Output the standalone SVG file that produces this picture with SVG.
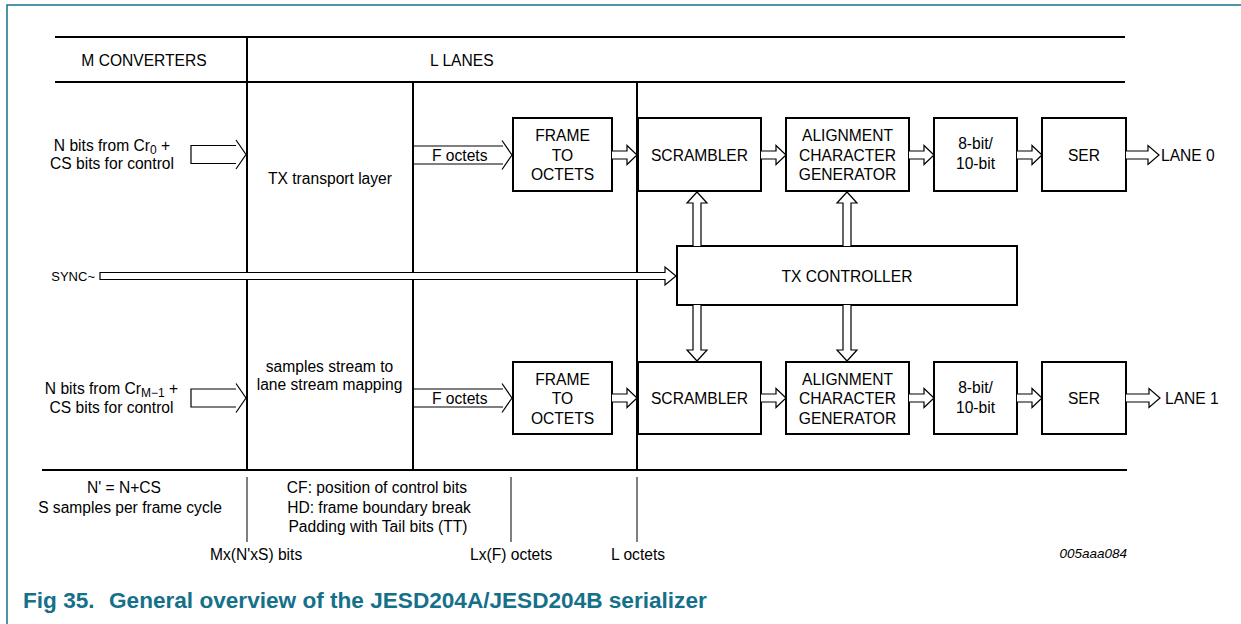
<svg xmlns="http://www.w3.org/2000/svg" width="1241" height="624" viewBox="0 0 1241 624">
<style>
text{font-family:"Liberation Sans",Arial,sans-serif;font-size:15.6px;fill:#000}
.c{text-anchor:middle}
.box{fill:#fff;stroke:#000;stroke-width:2}
.rule{stroke:#000;stroke-width:2;fill:none}
.thin{stroke:#000;stroke-width:1;fill:none}
.arr{fill:#fff;stroke:#000;stroke-width:1.2;stroke-linejoin:miter}
.open{fill:none}
.frame{stroke:#15708a;stroke-width:1.5;fill:none}
.cap{font-weight:bold;font-size:22.6px;fill:#15708a}
.sub{font-size:12px}
.small{font-size:13px}
.id{font-size:13.5px;font-style:italic}
</style>
<rect x="0" y="0" width="1241" height="624" fill="#fff"/>
<path class="frame" d="M7,624 V5 H1241"/>

<g id="grid">
<path class="rule" d="M55,37 H1125 M55,82 H1125 M42,470 H1127 M247,37 V470 M413,82 V470 M637,82 V470"/>
<path class="thin" d="M247,477 V542 M511,477 V542 M637,477 V542"/>
<text class="c" x="144" y="66">M CONVERTERS</text>
<text x="430" y="66">L LANES</text>
<text class="c" x="330" y="183.5">TX transport layer</text>
<text class="c" x="329.5" y="372">samples stream to</text>
<text class="c" x="329.5" y="390">lane stream mapping</text>
</g>

<g id="input0">
<text class="c" x="112" y="151">N bits from Cr<tspan class="sub" dy="3">0</tspan><tspan dy="-3"> +</tspan></text>
<text class="c" x="112" y="169">CS bits for control</text>
</g>
<g id="input1">
<text class="c" x="111.5" y="394">N bits from Cr<tspan class="sub" dy="3">M−1</tspan><tspan dy="-3"> +</tspan></text>
<text class="c" x="111.5" y="412.5">CS bits for control</text>
</g>
<g id="sync"><text class="small" x="95" y="281" text-anchor="end">SYNC~</text></g>

<g id="frame0"><rect class="box" x="513" y="118" width="99" height="73"/>
<text class="c" x="562.5" y="141">FRAME</text><text class="c" x="562.5" y="160.5">TO</text><text class="c" x="562.5" y="180">OCTETS</text></g>
<g id="scrambler0"><rect class="box" x="638" y="118" width="123" height="73"/>
<text class="c" x="699.5" y="160.5">SCRAMBLER</text></g>
<g id="align0"><rect class="box" x="786" y="118" width="123" height="73"/>
<text class="c" x="847.5" y="141">ALIGNMENT</text><text class="c" x="847.5" y="160.5">CHARACTER</text><text class="c" x="847.5" y="180">GENERATOR</text></g>
<g id="enc0"><rect class="box" x="934" y="118" width="83" height="73"/>
<text class="c" x="975.5" y="149.3">8-bit/</text><text class="c" x="975.5" y="169">10-bit</text></g>
<g id="ser0"><rect class="box" x="1042" y="118" width="84" height="73"/>
<text class="c" x="1084" y="160.5">SER</text></g>
<g id="lane0"><text x="1161" y="160.5">LANE 0</text></g>

<g id="txctrl"><rect class="box" x="677" y="246" width="340" height="59"/>
<text class="c" x="847" y="281.5">TX CONTROLLER</text></g>

<g id="frame1"><rect class="box" x="513" y="362" width="99" height="72"/>
<text class="c" x="562.5" y="384.5">FRAME</text><text class="c" x="562.5" y="404">TO</text><text class="c" x="562.5" y="423.5">OCTETS</text></g>
<g id="scrambler1"><rect class="box" x="638" y="362" width="123" height="72"/>
<text class="c" x="699.5" y="404">SCRAMBLER</text></g>
<g id="align1"><rect class="box" x="786" y="362" width="123" height="72"/>
<text class="c" x="847.5" y="384.5">ALIGNMENT</text><text class="c" x="847.5" y="404">CHARACTER</text><text class="c" x="847.5" y="423.5">GENERATOR</text></g>
<g id="enc1"><rect class="box" x="934" y="362" width="83" height="72"/>
<text class="c" x="975.5" y="392.8">8-bit/</text><text class="c" x="975.5" y="412.5">10-bit</text></g>
<g id="ser1"><rect class="box" x="1042" y="362" width="84" height="72"/>
<text class="c" x="1084" y="404">SER</text></g>
<g id="lane1"><text x="1165" y="404">LANE 1</text></g>

<g id="connectors">
<path class="arr" d="M236,145.5 H191 V163.5 H236"/>
<path class="arr open" d="M236,140 L246,154.5 L236,169"/>
<path class="arr" d="M236,389 H191 V407 H236"/>
<path class="arr open" d="M236,383.5 L246,398 L236,412.5"/>
<path class="arr open" d="M413,146 H503 M413,164 H503"/>
<path class="arr open" d="M502,140.5 L512,155 L502,169.5"/>
<text x="432" y="160.5">F octets</text>
<path class="arr open" d="M413,389 H503 M413,407 H503"/>
<path class="arr open" d="M502,383.5 L512,398 L502,412.5"/>
<text x="432" y="403.5">F octets</text>
<path class="arr" d="M100,272.5 H665 V267 L676,276 L665,285 V279.5 H100 Z"/>
<path class="arr" d="M612,151 H627 V145.5 L637,155 L627,164.5 V159 H612"/>
<path class="arr" d="M761,151 H776 V145.5 L786,155 L776,164.5 V159 H761"/>
<path class="arr" d="M909,151 H924 V145.5 L934,155 L924,164.5 V159 H909"/>
<path class="arr" d="M1017,151 H1032 V145.5 L1042,155 L1032,164.5 V159 H1017"/>
<path class="arr" d="M1126,151 H1148 V145.5 L1159,155 L1148,164.5 V159 H1126"/>
<path class="arr" d="M612,394 H627 V388.5 L637,398 L627,407.5 V402 H612"/>
<path class="arr" d="M761,394 H776 V388.5 L786,398 L776,407.5 V402 H761"/>
<path class="arr" d="M909,394 H924 V388.5 L934,398 L924,407.5 V402 H909"/>
<path class="arr" d="M1017,394 H1032 V388.5 L1042,398 L1032,407.5 V402 H1017"/>
<path class="arr" d="M1126,394 H1149 V388.5 L1160,398 L1149,407.5 V402 H1126"/>
<path class="arr" d="M693,246 V203 H687 L697,192 L707,203 H701 V246"/>
<path class="arr" d="M843,246 V203 H837 L847,192 L857,203 H851 V246"/>
<path class="arr" d="M693,305 V350 H687 L697,361 L707,350 H701 V305"/>
<path class="arr" d="M843,305 V350 H837 L847,361 L857,350 H851 V305"/>
</g>

<g id="notes">
<text class="c" x="124" y="493">N' = N+CS</text>
<text class="c" x="130" y="513">S samples per frame cycle</text>
<text class="c" x="377" y="493">CF: position of control bits</text>
<text class="c" x="379" y="513">HD: frame boundary break</text>
<text class="c" x="378" y="532">Padding with Tail bits (TT)</text>
<text x="210" y="560">Mx(N'xS) bits</text>
<text x="470" y="560">Lx(F) octets</text>
<text x="611" y="560">L octets</text>
<text class="id" x="1127" y="558" text-anchor="end">005aaa084</text>
</g>

<g id="caption">
<text class="cap" x="23" y="608">Fig 35.</text>
<text class="cap" x="109" y="608">General overview of the JESD204A/JESD204B serializer</text>
</g>
</svg>
